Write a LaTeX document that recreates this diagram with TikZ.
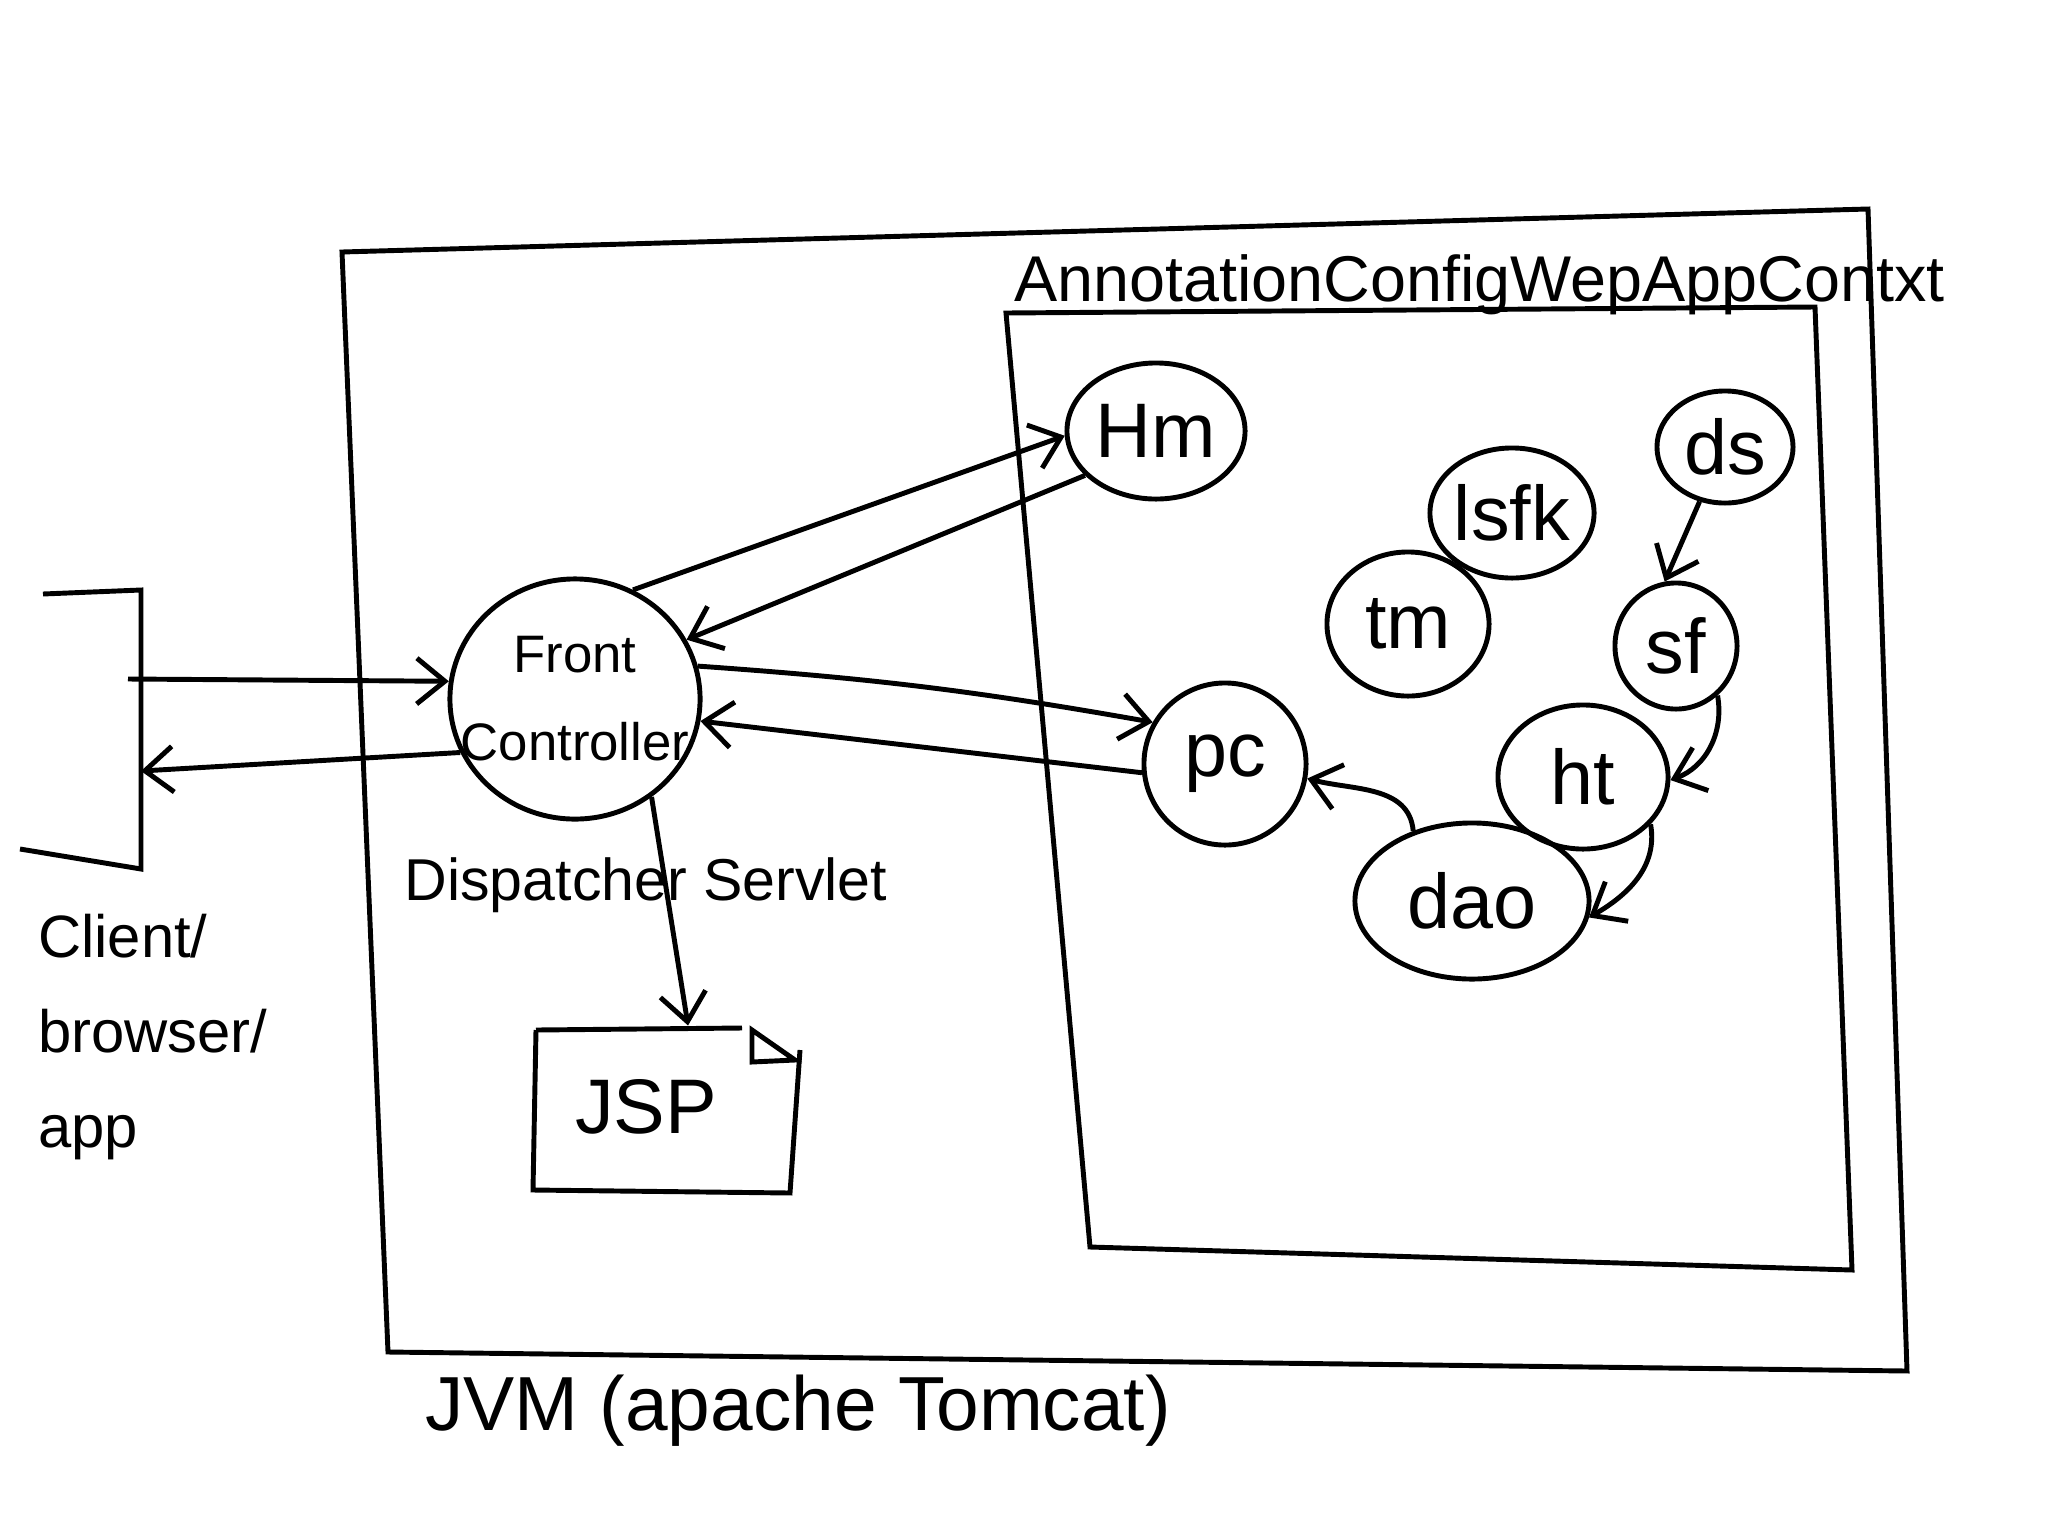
\documentclass[tikz,border=0pt]{standalone}
\usepackage{fontspec}
\setmainfont{Liberation Sans}
\usetikzlibrary{shapes.geometric,arrows.meta}
\begin{document}
\begin{tikzpicture}[x=0.01cm,y=-0.01cm,line width=1.4pt,
  >={Straight Barb[length=8pt,width=13pt]},
  bean/.style={draw,ellipse,inner sep=0pt,font=\fontsize{22}{26}\selectfont}]
\useasboundingbox (0,0) rectangle (2048,1536);
% JVM and context boxes
\draw (342,252) -- (1868,209) -- (1907,1371) -- (388,1352) -- cycle;
\draw (1006,313) -- (1815,307) -- (1852,1270) -- (1090,1247) -- cycle;
\node[anchor=base west,font=\fontsize{18.4}{20}\selectfont] (ctx) at (1000,301) {AnnotationConfigWepAppContxt};
\node[anchor=base west,font=\fontsize{21.8}{24}\selectfont] (jvm) at (411,1430) {JVM (apache Tomcat)};
% client
\draw (43,594) -- (141,590) -- (141,869) -- (20,849);
\coordinate (req) at (128,679);
\coordinate (resp) at (141,771);
\node[anchor=north west,align=left,font=\fontsize{17}{27}\selectfont] (client) at (24,900) {Client/\\browser/\\app};
% front controller
\node[draw,ellipse,minimum width=2.5cm,minimum height=2.4cm,
  label={[align=center,font=\fontsize{15}{25}\selectfont]center:Front\\Controller}] (fc) at (575,699) {};
\node[anchor=base,font=\fontsize{16.8}{20}\selectfont] (disp) at (646,900) {Dispatcher Servlet};
% beans
\node[bean,minimum width=1.78cm,minimum height=1.36cm] (hm) at (1156,431) {Hm};
\node[bean,minimum width=1.62cm,minimum height=1.62cm] (pc) at (1225,764) {pc};
\node[bean,minimum width=1.36cm,minimum height=1.12cm] (ds) at (1725,447) {ds};
\node[bean,minimum width=1.62cm,minimum height=1.3cm] (lsfk) at (1512,513) {lsfk};
\node[bean,minimum width=1.62cm,minimum height=1.44cm] (tm) at (1408,624) {tm};
\node[bean,minimum width=1.22cm,minimum height=1.26cm] (sf) at (1676,646) {sf};
\node[bean,minimum width=1.7cm,minimum height=1.44cm] (ht) at (1583,777) {ht};
\node[bean,minimum width=2.34cm,minimum height=1.56cm] (dao) at (1472,901) {dao};
% JSP page
\draw (536,1030) -- (742,1028);
\draw (752,1030) -- (752,1062) -- (795,1060) -- cycle;
\draw (536,1030) -- (533,1190) -- (790,1193) -- (800,1050);
\node[font=\fontsize{22}{26}\selectfont,minimum width=2.2cm,minimum height=1.58cm] (jsp) at (646,1107) {JSP};
% requests
\draw[->] (req) -- (fc.172);
\draw[->] (fc.205) -- (resp);
\draw[->] (fc.62) -- (hm.183);
\draw[->] (hm.212) -- (fc.28);
\draw[->] (fc.15) to[bend left=3] (pc.150);
\draw[->] (pc.186) -- (fc.-10);
\draw[->] (fc.-52) -- ([xshift=4.2mm]jsp.north);
% wiring
\draw[->] (ds.245) -- (sf.100);
\draw[->] (sf.-50) to[out=-80,in=20] (ht.-2);
\draw[->] (ht.-35) to[out=-80,in=30] (dao.-8);
\draw[->] (dao.130) to[out=95,in=-15] (pc.-10);
\end{tikzpicture}
\end{document}
